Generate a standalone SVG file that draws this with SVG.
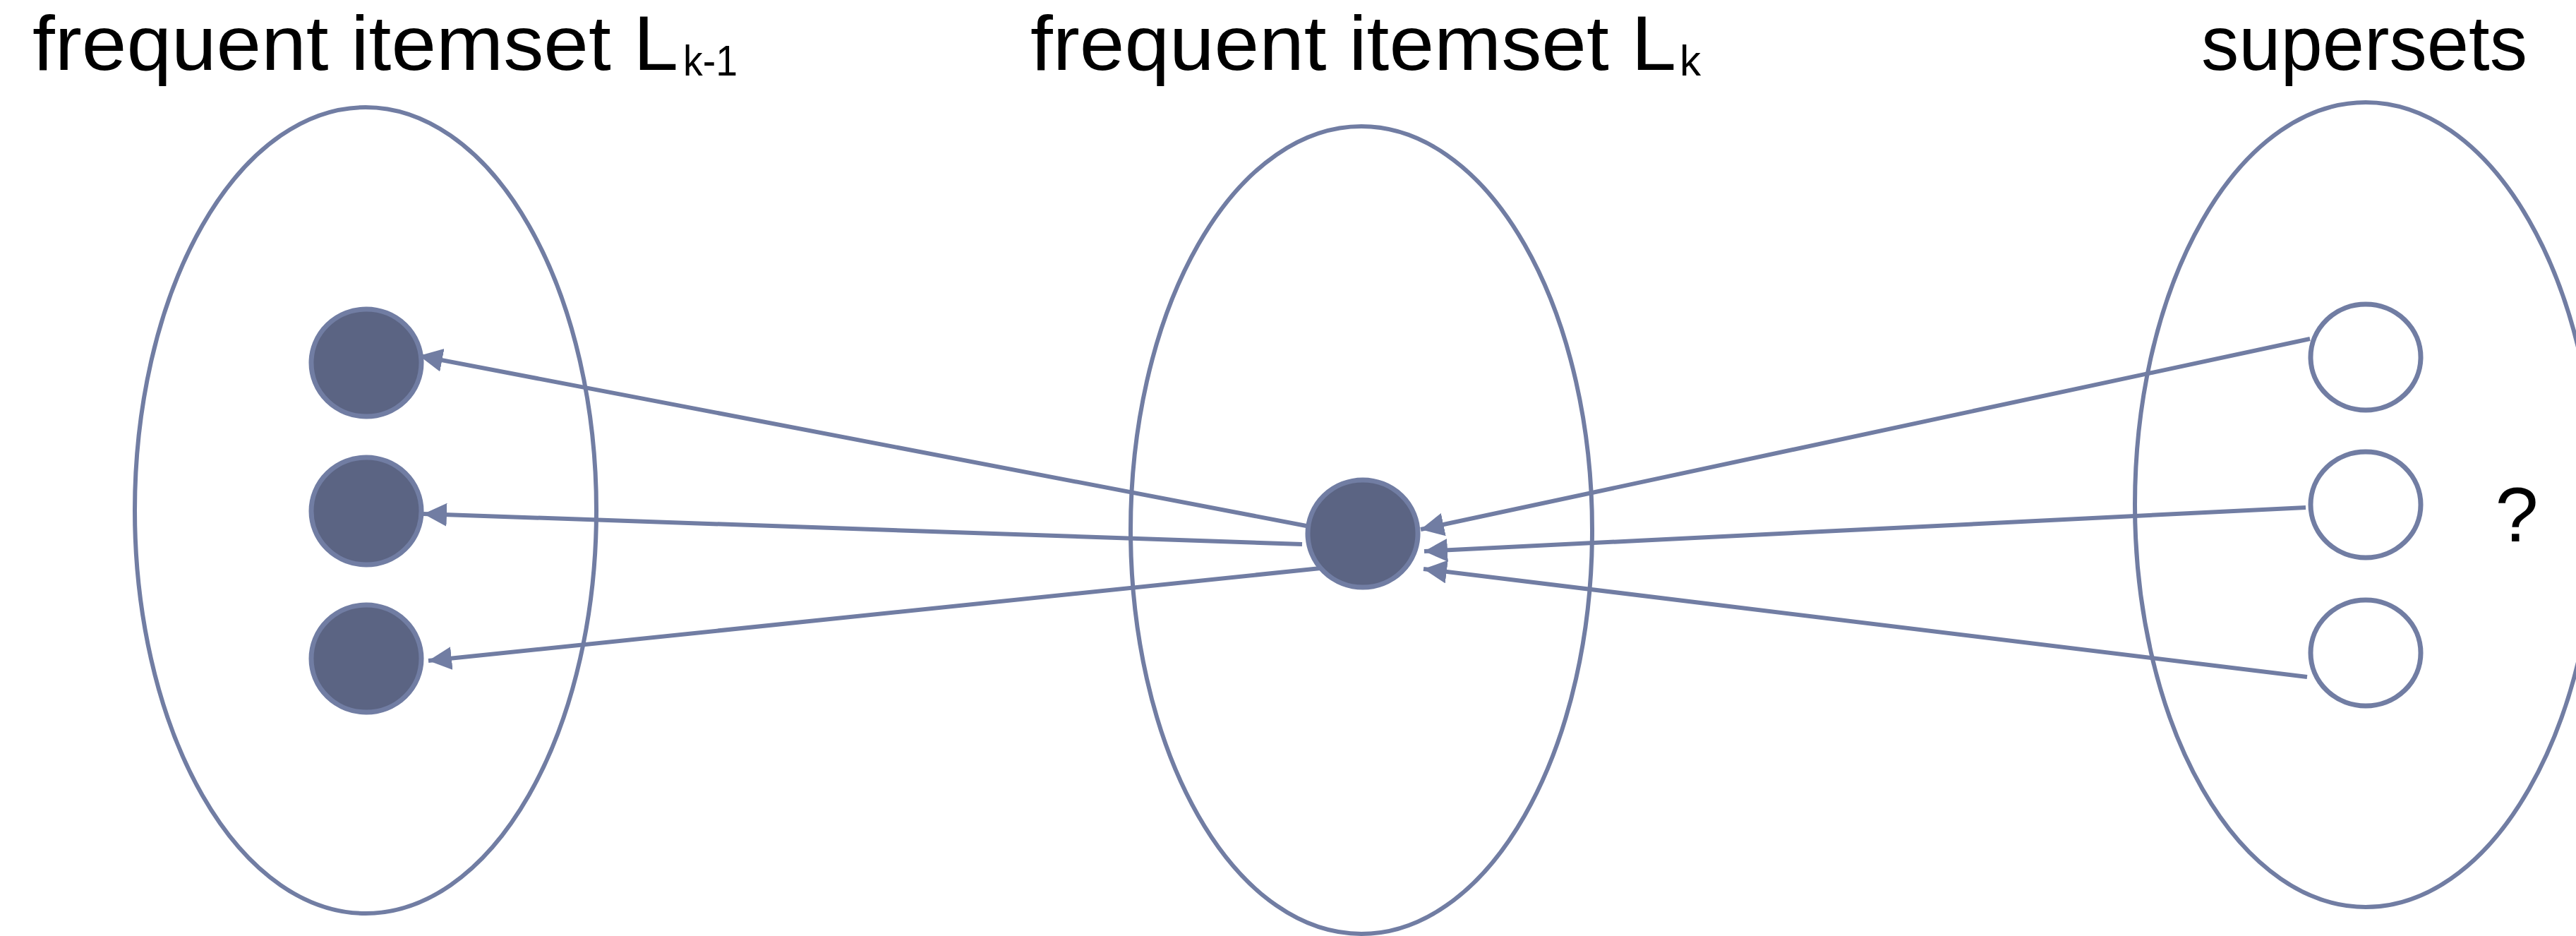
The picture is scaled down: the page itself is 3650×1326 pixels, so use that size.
<svg xmlns="http://www.w3.org/2000/svg" width="3650" height="1326" viewBox="0 0 3650 1326">
<style>
.set{fill:none;stroke:#717DA3;stroke-width:6}
.full{fill:#5B6483;stroke:#717DA3;stroke-width:7}
.empty{fill:#ffffff;stroke:#717DA3;stroke-width:7}
.title{font-family:"Liberation Sans",Arial,sans-serif;font-size:110px;fill:#000}
.sub{font-family:"Liberation Sans",Arial,sans-serif;font-size:62px;fill:#000}
.edge{stroke:#717DA3;stroke-width:6;fill:none;marker-end:url(#ah)}
</style>
<defs>
<marker id="ah" markerUnits="userSpaceOnUse" markerWidth="34" markerHeight="34" refX="33" refY="16.5" orient="auto" viewBox="0 0 34 34">
<path d="M0,0 L33,16.5 L0,33 z" fill="#717DA3"/>
</marker>
</defs>
<rect width="3650" height="1326" fill="#ffffff"/>
<g id="title-lk1"><text class="title" x="46" y="99" textLength="915" lengthAdjust="spacingAndGlyphs">frequent itemset L</text><text class="sub" x="968" y="107" textLength="77" lengthAdjust="spacingAndGlyphs">k-1</text></g>
<g id="title-lk"><text class="title" x="1460" y="99" textLength="915" lengthAdjust="spacingAndGlyphs">frequent itemset L</text><text class="sub" x="2380" y="107" textLength="30" lengthAdjust="spacingAndGlyphs">k</text></g>
<g id="title-supersets"><text class="title" x="3119" y="99" textLength="462" lengthAdjust="spacingAndGlyphs">supersets</text></g>
<g id="set-lk1"><ellipse class="set" cx="518" cy="723" rx="327" ry="571"/></g>
<g id="set-lk"><ellipse class="set" cx="1929" cy="751" rx="327" ry="572"/></g>
<g id="set-supersets"><ellipse class="set" cx="3352" cy="715" rx="327" ry="570"/></g>
<g id="node-l1"><ellipse class="full" cx="519" cy="514" rx="78" ry="76"/></g>
<g id="node-l2"><ellipse class="full" cx="519" cy="724" rx="78" ry="76"/></g>
<g id="node-l3"><ellipse class="full" cx="519" cy="933" rx="78" ry="76"/></g>
<g id="node-m"><ellipse class="full" cx="1931" cy="756" rx="78" ry="76"/></g>
<g id="node-s1"><ellipse class="empty" cx="3352" cy="506" rx="78" ry="75"/></g>
<g id="node-s2"><ellipse class="empty" cx="3352" cy="715" rx="78" ry="75"/></g>
<g id="node-s3"><ellipse class="empty" cx="3352" cy="925" rx="78" ry="75"/></g>
<g id="question"><text class="title" x="3566" y="767" font-size="130" text-anchor="middle">?</text></g>
<g id="connectors">
<line class="edge" x1="1851" y1="745" x2="594" y2="504"/>
<line class="edge" x1="1845" y1="771" x2="600" y2="728"/>
<line class="edge" x1="1871" y1="805" x2="607" y2="936"/>
<line class="edge" x1="3273" y1="480" x2="2013" y2="750"/>
<line class="edge" x1="3267" y1="719" x2="2018" y2="781"/>
<line class="edge" x1="3269" y1="959" x2="2017" y2="806"/>
</g>
</svg>
